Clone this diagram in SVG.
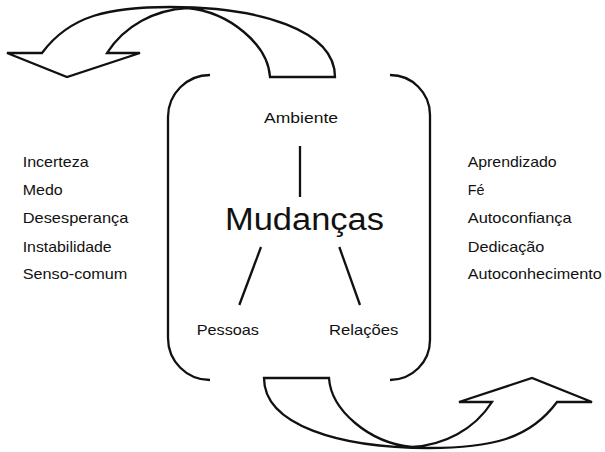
<svg xmlns="http://www.w3.org/2000/svg" xmlns:xlink="http://www.w3.org/1999/xlink" width="605" height="452" viewBox="0 0 605 452">
<style>
.ln{fill:none;stroke:#111;stroke-width:2.3;stroke-linejoin:miter;stroke-linecap:butt}
.t{font-family:"Liberation Sans",Arial,sans-serif;fill:#111;font-size:15px}
.m{font-family:"Liberation Sans",Arial,sans-serif;fill:#111;font-size:31px}
</style>
<defs>
<path id="arrow" d="M7,53 L42,53 C70,15 110,7 170,7 C260,7 335,30 335,77 L270,77 C268,45 230,12 187,8 C155,10 125,25 107,53 L140,53 L67,77 Z"/>
</defs>
<rect width="605" height="452" fill="#fff"/>
<g id="arrow-top"><use xlink:href="#arrow" class="ln"/></g>
<g id="arrow-bottom"><use xlink:href="#arrow" class="ln" transform="rotate(180 299.5 227.5)"/></g>
<g id="frame">
<path class="ln" d="M210,75 A42,42 0 0 0 168,117 L168,338 A42,42 0 0 0 210,380"/>
<path class="ln" d="M390,75 A40,40 0 0 1 430,115 L430,340 A40,40 0 0 1 390,380"/>
</g>
<g id="connectors">
<line class="ln" x1="300" y1="146" x2="300" y2="197"/>
<line class="ln" x1="261" y1="247" x2="239.3" y2="305"/>
<line class="ln" x1="339.3" y1="247" x2="360" y2="305"/>
</g>
<g id="mudancas"><text class="m" x="225" y="230" textLength="159" lengthAdjust="spacingAndGlyphs">Mudanças</text></g>
<g id="ambiente"><text class="t" x="264" y="123" style="font-size:15.5px" textLength="74" lengthAdjust="spacingAndGlyphs">Ambiente</text></g>
<g id="pessoas"><text class="t" x="196.7" y="335" textLength="62.3" lengthAdjust="spacingAndGlyphs">Pessoas</text></g>
<g id="relacoes"><text class="t" x="329" y="335" textLength="69.3" lengthAdjust="spacingAndGlyphs">Relações</text></g>
<g id="left-list">
<text class="t" x="22.7" y="166.7" textLength="66" lengthAdjust="spacingAndGlyphs">Incerteza</text>
<text class="t" x="22.7" y="195" textLength="40" lengthAdjust="spacingAndGlyphs">Medo</text>
<text class="t" x="22.7" y="223.3" textLength="105.7" lengthAdjust="spacingAndGlyphs">Desesperança</text>
<text class="t" x="22.7" y="251.7" textLength="89" lengthAdjust="spacingAndGlyphs">Instabilidade</text>
<text class="t" x="22.7" y="279.3" textLength="104.7" lengthAdjust="spacingAndGlyphs">Senso-comum</text>
</g>
<g id="right-list">
<text class="t" x="467.7" y="166.7" textLength="89" lengthAdjust="spacingAndGlyphs">Aprendizado</text>
<text class="t" x="467.7" y="195" textLength="16.7" lengthAdjust="spacingAndGlyphs">Fé</text>
<text class="t" x="467.7" y="223.3" textLength="104" lengthAdjust="spacingAndGlyphs">Autoconfiança</text>
<text class="t" x="467.7" y="251.7" textLength="76.7" lengthAdjust="spacingAndGlyphs">Dedicação</text>
<text class="t" x="467.7" y="279.3" textLength="134" lengthAdjust="spacingAndGlyphs">Autoconhecimento</text>
</g>
</svg>
